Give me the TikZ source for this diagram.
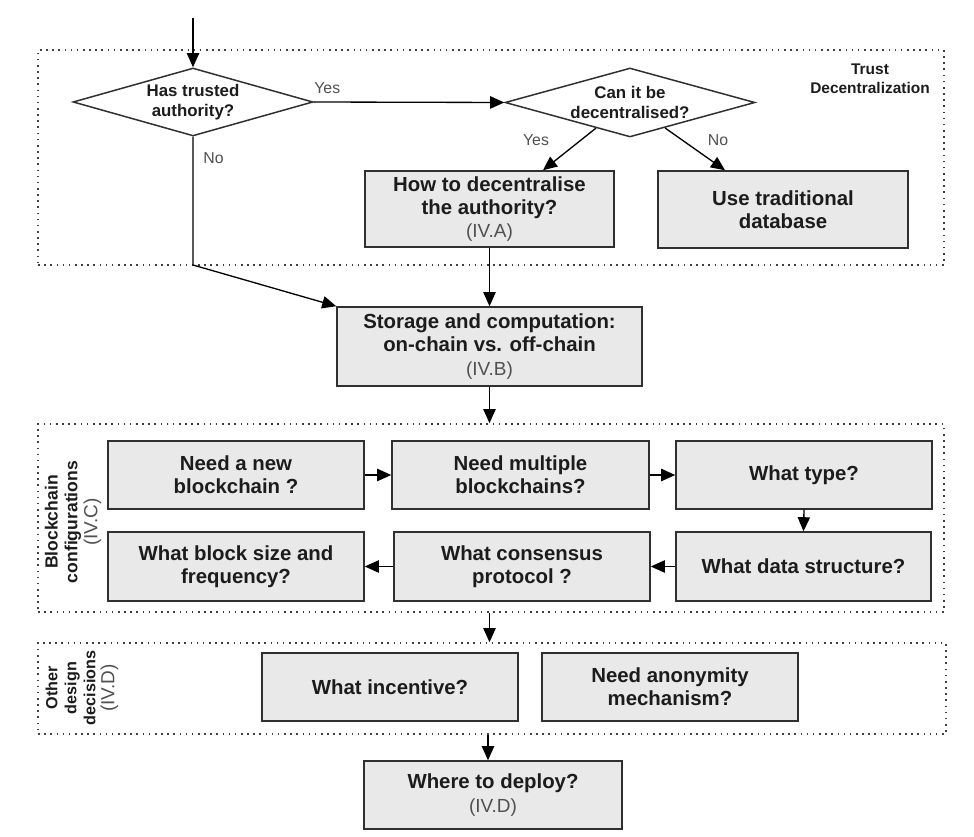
\documentclass[tikz,border=0pt]{standalone}
\usepackage{fontspec}
\setmainfont{Liberation Sans}
\usetikzlibrary{arrows.meta,shapes.geometric}

\definecolor{boxfill}{HTML}{E9E9E9}
\definecolor{boxline}{HTML}{303030}
\definecolor{ink}{HTML}{1C1C1C}
\definecolor{note}{HTML}{505050}
\definecolor{framecol}{HTML}{404040}

\newcommand{\secref}[1]{{\mdseries\color{note}\fontsize{10.8}{12}\selectfont #1}}

\tikzset{
  stepbox/.style={draw=boxline, fill=boxfill, line width=0.85pt, text=ink,
    align=center, inner sep=0pt,
    font=\bfseries\fontsize{11.6}{13.2}\selectfont},
  decision/.style={diamond, draw=boxline, fill=white, line width=0.85pt, text=ink,
    align=center, inner sep=0pt, font=\bfseries\fontsize{9.6}{11.7}\selectfont},
  frame/.style={draw=framecol, line width=0.9pt, dash pattern=on 0.9pt off 2.6pt,
    inner sep=0pt},
  flow/.style={draw=black, line width=0.75pt,
    -{Triangle[length=8pt,width=7pt]}},
  answer/.style={text=note, font=\fontsize{9}{10}\selectfont, inner sep=0pt},
  grouplabel/.style={rotate=90, align=center, text=ink, inner sep=0pt,
    font=\bfseries\fontsize{10}{11.3}\selectfont},
}

\begin{document}
\begin{tikzpicture}[x=0.02cm, y=-0.02cm]
\useasboundingbox (0,0) rectangle (974,837);

% dotted group frames
\node[frame, minimum width=18.12cm, minimum height=4.30cm] (f1) at (491,157.5) {};
\node[frame, minimum width=18.12cm, minimum height=3.76cm] (f2) at (491,518) {};
\node[frame, minimum width=18.16cm, minimum height=1.82cm] (f3) at (492,688.5) {};

% trust decentralization
\coordinate (start) at (193,18);
\node[decision, aspect=3.53, minimum width=4.8cm, minimum height=1.36cm] (d1) at (193,102)
  {Has trusted\\authority?};
\node[decision, aspect=3.62, minimum width=5.0cm, minimum height=1.38cm] (d2) at (630,102.5)
  {Can it be\\decentralised?};
\node[stepbox, minimum width=4.98cm, minimum height=1.52cm] (howdec) at (489.5,209)
  {How to decentralise\\the authority?\\\secref{(IV.A)}};
\node[stepbox, minimum width=5.00cm, minimum height=1.54cm] (tradb) at (783,209.5)
  {Use traditional\\database};
\node[text=ink, align=center, inner sep=0pt,
  font=\bfseries\fontsize{8.8}{10.6}\selectfont] (trustlbl) at (870,79)
  {Trust\\Decentralization};

% storage
\node[stepbox, minimum width=6.10cm, minimum height=1.58cm] (store) at (489.5,346.5)
  {Storage and computation:\\on-chain vs. off-chain\\\secref{(IV.B)}};

% blockchain configurations
\node[grouplabel] (cfglbl) at (73,522)
  {Blockchain\\configurations\\\secref{(IV.C)}};
\node[stepbox, minimum width=5.12cm, minimum height=1.36cm] (newbc) at (236,475)
  {Need a new\\blockchain ?};
\node[stepbox, minimum width=5.14cm, minimum height=1.36cm] (multi) at (520.5,475)
  {Need multiple\\blockchains?};
\node[stepbox, minimum width=5.12cm, minimum height=1.36cm] (btype) at (804,475)
  {What type?};
\node[stepbox, minimum width=5.12cm, minimum height=1.38cm] (bsize) at (236,566.5)
  {What block size and\\frequency?};
\node[stepbox, minimum width=5.12cm, minimum height=1.38cm] (consensus) at (522,566.5)
  {What consensus\\protocol ?};
\node[stepbox, minimum width=5.10cm, minimum height=1.38cm] (dstruct) at (803.5,566.5)
  {What data structure?};

% other design decisions
\node[grouplabel, font=\bfseries\fontsize{9.2}{10.8}\selectfont] (otherlbl) at (82,688)
  {Other\\design\\decisions\\\secref{(IV.D)}};
\node[stepbox, minimum width=5.12cm, minimum height=1.36cm] (incent) at (390,687)
  {What incentive?};
\node[stepbox, minimum width=5.12cm, minimum height=1.36cm] (anon) at (670,687)
  {Need anonymity\\mechanism?};

% deployment
\node[stepbox, minimum width=5.16cm, minimum height=1.36cm] (deploy) at (493,795)
  {Where to deploy?\\\secref{(IV.D)}};

% connectors
\draw[flow] (start) -- (d1.north);
\draw[flow] (d1.east) -- (d2.west);
\node[answer, anchor=west] (yes1) at (314,88) {Yes};
\coordinate (nobend) at (193,265);
\draw[flow] (d1.south) -- (nobend) -- (store.north west);
\node[answer, anchor=west] (no1) at (203,158) {No};
\draw[flow] (d2.217.7) -- ([xshift=1.07cm]howdec.north);
\node[answer] (yes2) at (536,140) {Yes};
\draw[flow] (d2.324.7) -- ([xshift=-1.16cm]tradb.north);
\node[answer] (no2) at (718,140) {No};
\draw[flow] (howdec.south) -- (store.north);
\draw[flow] (store.south) -- (store.south |- f2.north);

\draw[flow] (newbc.east) -- (multi.west);
\draw[flow] (multi.east) -- (btype.west);
\draw[flow] (btype.south) -- (dstruct.north);
\draw[flow] (dstruct.west) -- (consensus.east);
\draw[flow] (consensus.west) -- (bsize.east);

\draw[flow] (store.south |- f2.south) -- (store.south |- f3.north);
\draw[flow] ([xshift=-0.1cm]deploy.north |- f3.south) -- ([xshift=-0.1cm]deploy.north);
\end{tikzpicture}
\end{document}
